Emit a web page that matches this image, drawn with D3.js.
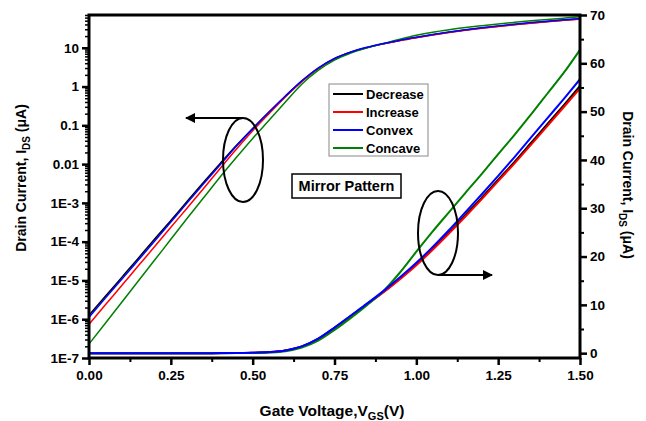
<!DOCTYPE html>
<html>
<head>
<meta charset="utf-8">
<script src="https://cdn.jsdelivr.net/npm/d3@7"></script>
<style>
  body { margin: 0; background: #fff; }
  svg { font-family: "Liberation Sans", Arial, sans-serif; font-weight: bold; }
  .tick text { font-size: 13.5px; font-weight: bold; fill: #000; }
</style>
</head>
<body>
<div id="chart"></div>
<script>
'use strict';

// gate voltage (V)
var vgs = [ 0.00, 0.05, 0.10, 0.15, 0.20, 0.25, 0.30, 0.35, 0.40, 0.45,
  0.50, 0.55, 0.60, 0.65, 0.70, 0.75, 0.80, 0.85, 0.90, 0.95,
  1.00, 1.05, 1.10, 1.15, 1.20, 1.25, 1.30, 1.35, 1.40, 1.45, 1.50 ];

// drain current (uA)
var decrease = [ 1.26e-6, 3.9e-6, 1.2e-5, 3.7e-5, 1.15e-4, 3.5e-4, 1.1e-3, 3.4e-3, 0.0102, 0.030,
  0.083, 0.22, 0.56, 1.38, 2.95, 5.25, 7.7, 10.2, 12.7, 15.5,
  18.4, 21.6, 25.0, 28.6, 32.2, 35.9, 39.6, 43.5, 47.4, 51.3, 55.3 ];
var increase = [ 7.4e-7, 2.35e-6, 7.4e-6, 2.35e-5, 7.4e-5, 2.35e-4, 7.4e-4, 2.35e-3, 7.6e-3, 0.024,
  0.072, 0.20, 0.54, 1.33, 2.9, 5.2, 7.7, 10.1, 12.6, 15.3,
  18.2, 21.4, 24.8, 28.3, 31.9, 35.6, 39.3, 43.1, 47.0, 50.9, 54.8 ];
var convex = [ 1.12e-6, 3.5e-6, 1.07e-5, 3.3e-5, 1.02e-4, 3.2e-4, 1.0e-3, 3.1e-3, 9.5e-3, 0.029,
  0.081, 0.22, 0.57, 1.4, 3.0, 5.3, 7.8, 10.3, 12.9, 15.7,
  18.7, 22.0, 25.5, 29.2, 32.9, 36.7, 40.6, 44.6, 48.6, 52.6, 56.7 ];
var concave = [ 2.3e-7, 7.9e-7, 2.75e-6, 9.5e-6, 3.3e-5, 1.15e-4, 4.0e-4, 1.35e-3, 4.6e-3, 0.0148,
  0.046, 0.135, 0.40, 1.15, 2.6, 4.8, 7.3, 10.0, 12.9, 16.7,
  21.0, 25.2, 29.2, 33.2, 37.1, 41.2, 45.2, 49.4, 53.7, 58.0, 62.8 ];

var seriesNames = [ 'Decrease', 'Increase', 'Concave', 'Convex' ];
var legendOrder = [ 'Decrease', 'Increase', 'Convex', 'Concave' ];
var seriesColors = { Decrease: '#000000', Increase: '#ff0000', Convex: '#0000ff', Concave: '#008000' };
var seriesValues = { Decrease: decrease, Increase: increase, Convex: convex, Concave: concave };

var xTicks = [ 0, 0.25, 0.5, 0.75, 1.0, 1.25, 1.5 ];
var logTicks = [ 1e-7, 1e-6, 1e-5, 1e-4, 1e-3, 0.01, 0.1, 1, 10 ];
var logTickLabels = [ '1E-7', '1E-6', '1E-5', '1E-4', '1E-3', '0.01', '0.1', '1', '10' ];
var linTicks = [ 0, 10, 20, 30, 40, 50, 60, 70 ];

var width = 646,
  height = 421,
  margin = { top: 15, right: 66, bottom: 63, left: 89 };

var svg = d3.select( '#chart' )
  .append( 'svg' )
  .attr( 'width', width )
  .attr( 'height', height );

var x = d3.scaleLinear()
  .domain( [ 0, 1.5 ] )
  .range( [ margin.left, width - margin.right ] );

var yLog = d3.scaleLog()
  .domain( [ 1e-7, 70 ] )
  .range( [ height - margin.bottom, margin.top ] );

var yLin = d3.scaleLinear()
  .domain( [ -1, 70 ] )
  .range( [ height - margin.bottom, margin.top ] );

// minor ticks
var logMinor = [];
logTicks.forEach(function( t ) {
  for ( var k = 2; k <= 9; k++ ) {
    if ( t * k <= 70 ) { logMinor.push( t * k ); }
  }
});
var xMinor = [ 0.125, 0.375, 0.625, 0.875, 1.125, 1.375 ];
var linMinor = [ 5, 15, 25, 35, 45, 55, 65 ];

function styleAxis( g, w ) {
  g.select( '.domain' ).remove();
  g.selectAll( '.tick line' ).attr( 'stroke', '#000' ).attr( 'stroke-width', w );
}

svg.append( 'g' )
  .attr( 'transform', 'translate(' + margin.left + ',0)' )
  .call( d3.axisLeft( yLog ).tickValues( logMinor ).tickSize( 4 ).tickFormat( '' ) )
  .call( styleAxis, 1.5 );

svg.append( 'g' )
  .attr( 'transform', 'translate(' + margin.left + ',0)' )
  .call( d3.axisLeft( yLog ).tickValues( logTicks ).tickSize( 7 ).tickPadding( 3 )
    .tickFormat( function( d, i ) { return logTickLabels[ i ]; } ) )
  .call( styleAxis, 2.5 );

svg.append( 'g' )
  .attr( 'transform', 'translate(0,' + ( height - margin.bottom ) + ')' )
  .call( d3.axisBottom( x ).tickValues( xMinor ).tickSize( 4 ).tickFormat( '' ) )
  .call( styleAxis, 2 );

svg.append( 'g' )
  .attr( 'transform', 'translate(0,' + ( height - margin.bottom ) + ')' )
  .call( d3.axisBottom( x ).tickValues( xTicks ).tickSize( 7 ).tickPadding( 5 )
    .tickFormat( d3.format( '.2f' ) ) )
  .call( styleAxis, 2.5 );

svg.append( 'g' )
  .attr( 'transform', 'translate(' + ( width - margin.right ) + ',0)' )
  .call( d3.axisRight( yLin ).tickValues( linMinor ).tickSize( 4 ).tickFormat( '' ) )
  .call( styleAxis, 2 );

svg.append( 'g' )
  .attr( 'transform', 'translate(' + ( width - margin.right ) + ',0)' )
  .call( d3.axisRight( yLin ).tickValues( linTicks ).tickSize( 7 ).tickPadding( 3 ) )
  .call( styleAxis, 2.5 );

// curves
var lineLog = d3.line()
  .curve( d3.curveMonotoneX )
  .x(function( d, i ) { return x( vgs[ i ] ); })
  .y(function( d ) { return yLog( d ); });

var lineLin = d3.line()
  .curve( d3.curveMonotoneX )
  .x(function( d, i ) { return x( vgs[ i ] ); })
  .y(function( d ) { return yLin( d ); });

var plot = svg.append( 'g' );

seriesNames.forEach(function( name ) {
  plot.append( 'path' )
    .attr( 'd', lineLog( seriesValues[ name ] ) )
    .attr( 'fill', 'none' )
    .attr( 'stroke', seriesColors[ name ] )
    .attr( 'stroke-width', 1.5 );
});

seriesNames.forEach(function( name ) {
  plot.append( 'path' )
    .attr( 'd', lineLin( seriesValues[ name ] ) )
    .attr( 'fill', 'none' )
    .attr( 'stroke', seriesColors[ name ] )
    .attr( 'stroke-width', 2 );
});

// frame
svg.append( 'rect' )
  .attr( 'x', margin.left )
  .attr( 'y', margin.top )
  .attr( 'width', width - margin.left - margin.right )
  .attr( 'height', height - margin.top - margin.bottom )
  .attr( 'fill', 'none' )
  .attr( 'stroke', '#000' )
  .attr( 'stroke-width', 3 );

// legend
var legend = svg.append( 'g' ).attr( 'transform', 'translate(329,84)' );

legend.append( 'rect' )
  .attr( 'width', 99 )
  .attr( 'height', 72 )
  .attr( 'fill', '#fff' )
  .attr( 'stroke', '#888' )
  .attr( 'stroke-width', 1 );

legendOrder.forEach(function( name, i ) {
  var row = legend.append( 'g' ).attr( 'transform', 'translate(0,' + ( 10 + i * 18 ) + ')' );
  row.append( 'line' )
    .attr( 'x1', 4 ).attr( 'x2', 34 )
    .attr( 'stroke', seriesColors[ name ] )
    .attr( 'stroke-width', 2 );
  row.append( 'text' )
    .attr( 'x', 37 )
    .attr( 'dy', '0.35em' )
    .attr( 'font-size', 13 )
    .text( name );
});

// mirror pattern label
svg.append( 'rect' )
  .attr( 'x', 292 ).attr( 'y', 174 )
  .attr( 'width', 109 ).attr( 'height', 24 )
  .attr( 'fill', '#fff' )
  .attr( 'stroke', '#000' )
  .attr( 'stroke-width', 1.5 );

svg.append( 'text' )
  .attr( 'x', 346.5 ).attr( 'y', 191 )
  .attr( 'text-anchor', 'middle' )
  .attr( 'font-size', 14.5 )
  .text( 'Mirror Pattern' );

// ellipses and arrows
svg.append( 'defs' ).append( 'marker' )
  .attr( 'id', 'head' )
  .attr( 'viewBox', '0 0 10 10' )
  .attr( 'refX', 9 ).attr( 'refY', 5 )
  .attr( 'markerWidth', 7 ).attr( 'markerHeight', 5 )
  .attr( 'markerUnits', 'strokeWidth' )
  .attr( 'orient', 'auto' )
  .append( 'path' )
  .attr( 'd', 'M0,0L10,5L0,10Z' )
  .attr( 'fill', '#000' );

svg.append( 'ellipse' )
  .attr( 'cx', 243 ).attr( 'cy', 160 )
  .attr( 'rx', 20 ).attr( 'ry', 42 )
  .attr( 'fill', 'none' ).attr( 'stroke', '#000' ).attr( 'stroke-width', 2 );

svg.append( 'line' )
  .attr( 'x1', 243 ).attr( 'y1', 118 )
  .attr( 'x2', 186 ).attr( 'y2', 118 )
  .attr( 'stroke', '#000' ).attr( 'stroke-width', 2 )
  .attr( 'marker-end', 'url(#head)' );

svg.append( 'ellipse' )
  .attr( 'cx', 438 ).attr( 'cy', 233 )
  .attr( 'rx', 20 ).attr( 'ry', 42 )
  .attr( 'fill', 'none' ).attr( 'stroke', '#000' ).attr( 'stroke-width', 2 );

svg.append( 'line' )
  .attr( 'x1', 438 ).attr( 'y1', 275 )
  .attr( 'x2', 492 ).attr( 'y2', 275 )
  .attr( 'stroke', '#000' ).attr( 'stroke-width', 2 )
  .attr( 'marker-end', 'url(#head)' );

// axis titles
var leftTitle = svg.append( 'text' )
  .attr( 'transform', 'translate(26,178) rotate(-90)' )
  .attr( 'text-anchor', 'middle' )
  .attr( 'font-size', 14 );
leftTitle.append( 'tspan' ).text( 'Drain Current, I' );
leftTitle.append( 'tspan' ).attr( 'font-size', 10 ).attr( 'dy', 4 ).text( 'DS' );
leftTitle.append( 'tspan' ).attr( 'dy', -4 ).text( ' (\u03bcA)' );

var rightTitle = svg.append( 'text' )
  .attr( 'transform', 'translate(623,185) rotate(90)' )
  .attr( 'text-anchor', 'middle' )
  .attr( 'font-size', 14 );
rightTitle.append( 'tspan' ).text( 'Drain Current, I' );
rightTitle.append( 'tspan' ).attr( 'font-size', 10 ).attr( 'dy', 4 ).text( 'DS' );
rightTitle.append( 'tspan' ).attr( 'dy', -4 ).text( ' (\u03bcA)' );

var xTitle = svg.append( 'text' )
  .attr( 'x', 332 ).attr( 'y', 416 )
  .attr( 'text-anchor', 'middle' )
  .attr( 'font-size', 15.5 );
xTitle.append( 'tspan' ).text( 'Gate Voltage,V' );
xTitle.append( 'tspan' ).attr( 'font-size', 11 ).attr( 'dy', 4 ).text( 'GS' );
xTitle.append( 'tspan' ).attr( 'dy', -4 ).text( '(V)' );
</script>
</body>
</html>
